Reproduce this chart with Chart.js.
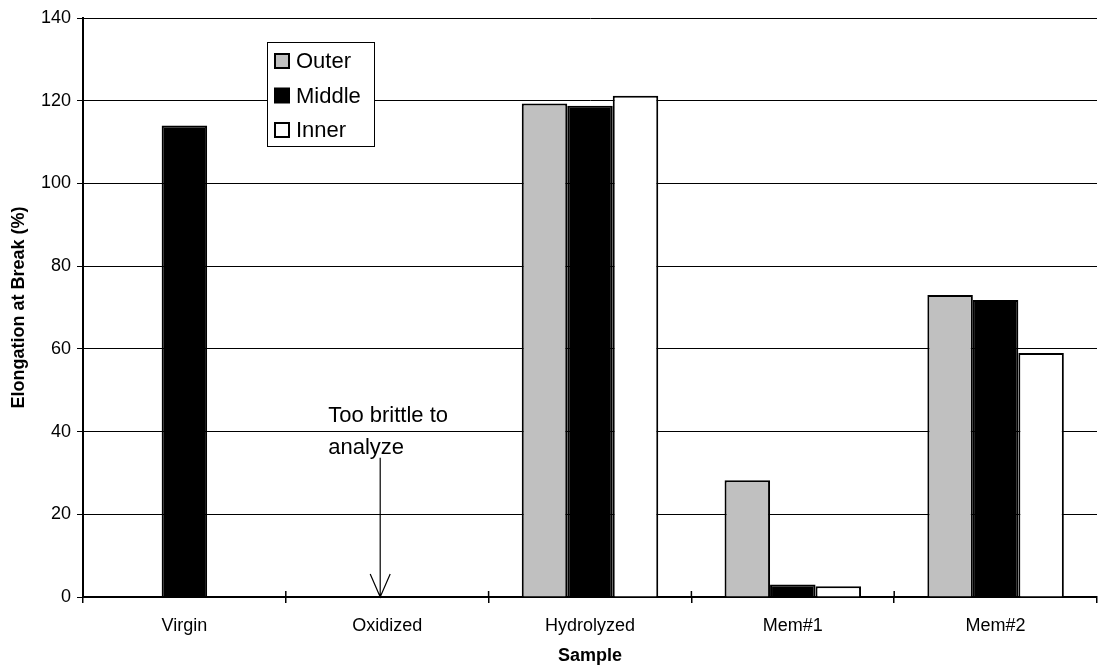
<html>
<head>
<script src="https://cdn.jsdelivr.net/npm/chart.js@4.4.0/dist/chart.umd.min.js"></script>
<style>
  body { margin: 0; background: #fff; }
  #wrap { width: 1098px; height: 670px; }
</style>
</head>
<body>
<div id="wrap"><canvas id="elongChart"></canvas></div>
<script>
// data
var samples = ["Virgin", "Oxidized", "Hydrolyzed", "Mem#1", "Mem#2"];
var outer  = [null, null, 119.3, 28.2, 73.0];
var middle = [114.0, null, 118.8, 3.0, 71.8];
var inner  = [null, null, 121.2, 2.6, 59.0];
var yTicks = [0, 20, 40, 60, 80, 100, 120, 140];
var note = ["Too brittle to", "analyze"];

var FONT = "'Liberation Sans', Arial, sans-serif";

// legend box drawn inside the plot
var boxLegend = {
  id: 'boxLegend',
  afterDraw: function(chart) {
    var ctx = chart.ctx;
    var x = 267, y = 42, w = 107, h = 104;
    ctx.save();
    ctx.fillStyle = '#fff';
    ctx.fillRect(x, y, w, h);
    ctx.strokeStyle = '#000';
    ctx.lineWidth = 1;
    ctx.strokeRect(x + 0.5, y + 0.5, w, h);
    ctx.font = '22px ' + FONT;
    ctx.textBaseline = 'middle';
    chart.data.datasets.forEach(function(ds, i) {
      var cy = 61 + i * 34.5;
      ctx.fillStyle = ds.backgroundColor;
      ctx.fillRect(275, cy - 7, 14, 14);
      ctx.lineWidth = 2;
      ctx.strokeStyle = '#000';
      ctx.strokeRect(275, cy - 7, 14, 14);
      ctx.fillStyle = '#000';
      ctx.fillText(ds.label, 296, cy + 1);
    });
    ctx.restore();
  }
};

// "too brittle" note with arrow, plus small tick marks above the x axis
var extras = {
  id: 'extras',
  afterDraw: function(chart) {
    var ctx = chart.ctx;
    var xs = chart.scales.x, ys = chart.scales.y;
    var ax = xs.getPixelForValue(1) - 7;
    var y0 = ys.getPixelForValue(0);
    var yTop = ys.getPixelForValue(33.7);
    ctx.save();
    ctx.fillStyle = '#000';
    ctx.font = '22px ' + FONT;
    ctx.textBaseline = 'alphabetic';
    ctx.fillText(note[0], ax - 52, ys.getPixelForValue(42.3));
    ctx.fillText(note[1], ax - 52, ys.getPixelForValue(34.6));
    ctx.strokeStyle = '#000';
    ctx.lineWidth = 1.2;
    ctx.beginPath();
    ctx.moveTo(ax, yTop);
    ctx.lineTo(ax, y0);
    ctx.moveTo(ax - 10, y0 - 23);
    ctx.lineTo(ax, y0);
    ctx.lineTo(ax + 10, y0 - 23);
    ctx.stroke();
    // tick marks crossing above the axis
    ctx.lineWidth = 1.5;
    ctx.beginPath();
    for (var i = 1; i < samples.length; i++) {
      var bx = (xs.getPixelForValue(i - 1) + xs.getPixelForValue(i)) / 2;
      ctx.moveTo(bx, y0 - 6);
      ctx.lineTo(bx, y0);
    }
    ctx.stroke();
    ctx.restore();
  }
};

var ctx = document.getElementById("elongChart").getContext('2d');
var elongChart = new Chart(ctx, {
  type: 'bar',
  data: {
    labels: samples,
    datasets: [
      { label: "Outer",  data: outer,  backgroundColor: "#C0C0C0" },
      { label: "Middle", data: middle, backgroundColor: "#000000" },
      { label: "Inner",  data: inner,  backgroundColor: "#FFFFFF" }
    ]
  },
  options: {
    responsive: true,
    maintainAspectRatio: false,
    animation: false,
    devicePixelRatio: 1,
    layout: { padding: { top: 18, right: 1, left: 0, bottom: 0 } },
    datasets: {
      bar: {
        borderColor: '#000',
        borderWidth: 2,
        categoryPercentage: 0.673,
        barPercentage: 1.0
      }
    },
    plugins: {
      legend: { display: false },
      tooltip: { enabled: false }
    },
    scales: {
      x: {
        grid: { offset: true, drawOnChartArea: false, color: '#000', tickLength: 6, lineWidth: 1.5 },
        border: { color: '#000', width: 2 },
        ticks: { color: '#000', font: { family: FONT, size: 18 }, padding: 12 },
        title: { display: true, text: 'Sample', color: '#000', font: { family: FONT, size: 18, weight: 'bold' }, padding: { top: 0, bottom: 3 } },
        afterFit: function(scale) { scale.height = 73; }
      },
      y: {
        min: 0,
        max: 140,
        afterBuildTicks: function(scale) {
          scale.ticks = yTicks.map(function(v) { return { value: v }; });
        },
        grid: { color: '#000', lineWidth: 1, tickLength: 6 },
        border: { color: '#000', width: 2 },
        ticks: { color: '#000', font: { family: FONT, size: 18 }, padding: 6 },
        title: { display: true, text: 'Elongation at Break (%)', color: '#000', font: { family: FONT, size: 18, weight: 'bold' }, padding: { top: 8, bottom: 0 } },
        afterFit: function(scale) { scale.width = 83; }
      }
    }
  },
  plugins: [boxLegend, extras]
});
</script>
</body>
</html>
